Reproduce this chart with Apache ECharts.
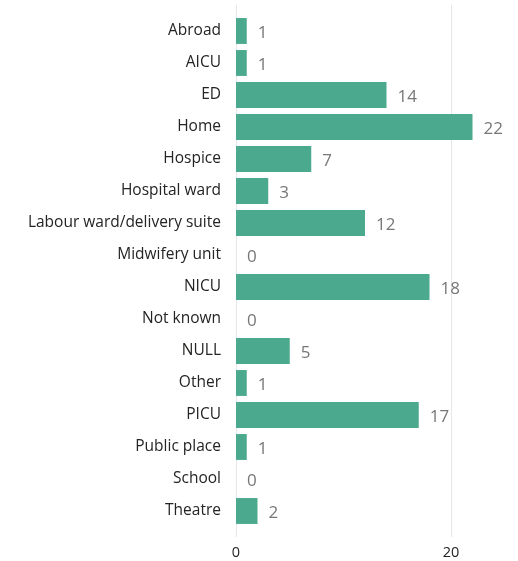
<!DOCTYPE html>
<html>
<head>
<meta charset="utf-8">
<script src="https://cdn.jsdelivr.net/npm/echarts@6/dist/echarts.min.js"></script>
<style>
  html, body { margin: 0; padding: 0; background: #fff; }
  #chart { width: 518px; height: 561px; }
</style>
</head>
<body>
<div id="chart"></div>
<script>
// Place of death counts by location
const categories = ['Abroad', 'AICU', 'ED', 'Home', 'Hospice', 'Hospital ward',
  'Labour ward/delivery suite', 'Midwifery unit', 'NICU', 'Not known', 'NULL',
  'Other', 'PICU', 'Public place', 'School', 'Theatre'];
const counts = [1, 1, 14, 22, 7, 3, 12, 0, 18, 0, 5, 1, 17, 1, 0, 2];
const xTicks = [0, 20];

const font = '"Open Sans", "Noto Sans", sans-serif';
const chart = echarts.init(document.getElementById('chart'));

chart.setOption({
  animation: false,
  textStyle: { fontFamily: font },
  grid: [
    // gridlines and tick labels
    { left: 236, width: 215, top: 5, bottom: 24 },
    // bars
    { left: 236, width: 268.75, top: 15, height: 512 }
  ],
  xAxis: [
    {
      gridIndex: 0, type: 'value', min: xTicks[0], max: xTicks[xTicks.length - 1], interval: 20,
      axisLine: { show: false }, axisTick: { show: false },
      splitLine: { show: true, lineStyle: { color: '#e6e6e6', width: 1 } },
      axisLabel: { color: '#252423', fontSize: 14.5, margin: 8, fontFamily: font }
    },
    {
      gridIndex: 1, type: 'value', min: 0, max: 25,
      show: false, splitLine: { show: false }
    }
  ],
  yAxis: [
    {
      gridIndex: 0, type: 'value', show: false, splitLine: { show: false }
    },
    {
      gridIndex: 1, type: 'category', data: categories, inverse: true,
      axisLine: { show: false }, axisTick: { show: false },
      axisLabel: {
        color: '#252423', fontSize: 15.5, margin: 15, fontFamily: font,
        padding: [4, 0, 0, 0]
      }
    }
  ],
  series: [{
    type: 'bar',
    xAxisIndex: 1, yAxisIndex: 1,
    data: counts,
    barCategoryGap: '19%',
    itemStyle: { color: '#4BAA8E' },
    label: {
      show: true, position: 'right', distance: 11, offset: [0, 2],
      color: '#777777', fontSize: 17, fontFamily: font
    }
  }]
});
</script>
</body>
</html>
